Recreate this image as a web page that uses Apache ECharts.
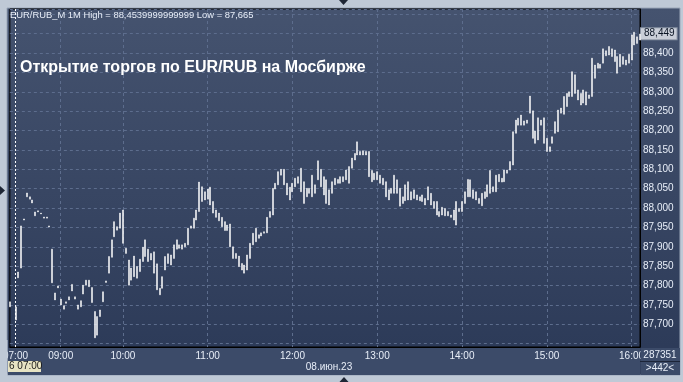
<!DOCTYPE html>
<html><head><meta charset="utf-8">
<script src="https://cdn.jsdelivr.net/npm/echarts@6/dist/echarts.min.js"></script>
<style>html,body{margin:0;padding:0;background:#bfc9d6;}#c{width:683px;height:382px;}</style>
</head><body><div id="c"></div>
<script>
// ---- data (EUR/RUB_M, 1M bars aggregated to ~2 min) ----
const preTimes = ['06:50','06:55','07:00','07:10','07:20','07:30','07:40','07:50','08:00','08:10','08:20','08:30','08:40','08:45','08:50','08:53','08:56','08:58'];
const tickLabels = ['07:00','09:00','10:00','11:00','12:00','13:00','14:00','15:00','16:00'];
const priceLabelRange = [87.7, 88.4];
const lows = [
87.745,null,87.711,87.820,87.845,87.969,88.029,88.023,88.013,87.980,87.990,87.985,87.974,87.974,87.951,87.807,87.763,87.794,
87.750,87.739,87.754,87.763,87.786,87.765,87.739,87.745,87.778,87.801,87.797,87.756,87.665,87.672,87.720,87.758,87.808,87.832,87.873,87.926,87.943,87.948,
87.909,87.883,87.801,87.814,87.823,87.819,87.836,87.862,87.875,87.862,87.866,87.832,87.789,87.776,87.793,87.840,87.857,87.853,87.870,87.894,
87.896,87.894,87.900,87.905,87.948,87.948,87.969,87.991,88.017,88.021,88.023,88.008,87.987,87.976,87.967,87.952,87.942,87.942,87.900,87.870,
87.870,87.849,87.840,87.832,87.840,87.870,87.905,87.913,87.922,87.928,87.935,87.936,87.976,87.982,88.049,88.060,88.085,88.060,88.034,88.021,
88.042,88.055,88.064,88.042,88.012,88.029,88.038,88.029,88.038,88.073,88.055,88.034,88.012,88.008,88.038,88.060,88.064,88.064,88.068,88.073,
88.064,88.103,88.124,88.137,88.137,88.137,88.137,88.081,88.068,88.073,88.073,88.064,88.060,88.029,88.021,88.038,88.038,88.038,88.005,88.012,
88.019,88.021,88.021,88.025,88.021,88.019,88.017,88.008,88.021,88.008,87.999,87.982,87.978,87.982,87.980,87.980,87.976,87.969,87.956,87.991,
87.991,88.012,88.029,88.029,88.025,88.021,88.012,88.006,88.025,88.029,88.038,88.042,88.042,88.068,88.067,88.068,88.090,88.098,88.111,88.193,
88.214,88.214,88.214,88.219,88.245,88.180,88.167,88.176,88.214,88.167,88.146,88.146,88.167,88.193,88.197,88.245,88.242,88.262,88.288,88.288,
88.296,88.279,88.266,88.271,88.266,88.283,88.288,88.335,88.361,88.361,88.374,88.393,88.395,88.391,88.378,88.348,88.365,88.371,88.369,88.374,
88.382,88.421,88.425,88.434
];
const highs = [
87.758,null,87.745,87.835,87.954,87.972,88.039,88.029,88.021,87.990,87.993,87.987,87.977,87.977,87.954,87.894,87.781,87.799,
87.765,87.748,87.758,87.771,87.803,87.771,87.750,87.761,87.801,87.814,87.814,87.795,87.733,87.720,87.737,87.784,87.812,87.875,87.918,87.965,87.952,87.987,
87.995,87.896,87.866,87.845,87.876,87.849,87.868,87.899,87.918,87.894,87.883,87.887,87.856,87.793,87.823,87.875,87.882,87.879,87.905,87.918,
87.905,87.905,87.909,87.948,87.954,87.974,87.995,88.067,88.055,88.042,88.049,88.054,88.017,87.995,87.987,87.976,87.965,87.956,87.959,87.900,
87.883,87.876,87.857,87.853,87.879,87.909,87.935,87.948,87.931,87.936,87.939,87.976,87.991,88.051,88.064,88.094,88.100,88.100,88.064,88.054,
88.064,88.077,88.081,88.103,88.068,88.051,88.051,88.085,88.060,88.122,88.100,88.081,88.073,88.047,88.068,88.077,88.074,88.081,88.081,88.098,
88.107,88.129,88.141,88.171,88.146,88.148,88.146,88.146,88.097,88.090,88.094,88.085,88.077,88.068,88.047,88.051,88.085,88.073,88.051,88.029,
88.060,88.068,88.042,88.047,88.034,88.029,88.034,88.025,88.055,88.038,88.017,88.017,87.991,88.002,87.999,87.991,87.982,87.995,88.017,87.999,
88.017,88.042,88.074,88.073,88.047,88.042,88.025,88.038,88.042,88.060,88.097,88.055,88.085,88.087,88.077,88.098,88.098,88.120,88.197,88.227,
88.232,88.240,88.225,88.227,88.289,88.251,88.199,88.233,88.227,88.233,88.180,88.158,88.184,88.223,88.253,88.258,88.288,88.296,88.300,88.352,
88.344,88.305,88.296,88.305,88.300,88.292,88.387,88.369,88.374,88.371,88.411,88.406,88.417,88.411,88.408,88.391,88.397,88.391,88.382,88.397,
88.447,88.454,88.442,88.449
];
const lastPrice = 88.449;
const sessionHigh = '88,4539999999999';
const sessionLow = '87,665';

// category labels (bar times)
const categories = preTimes.slice();
for (let j = 0; j < 22; j++) { const m = Math.round(j * 60 / 22); categories.push('09:' + String(m).padStart(2, '0')); }
for (let k = 0; categories.length < lows.length; k++) {
  const t = 600 + 2 * k; categories.push(String(Math.floor(t / 60)).padStart(2, '0') + ':' + String(t % 60).padStart(2, '0'));
}
const ohlc = lows.map((l, i) => l == null ? '-' : [l, highs[i], l, highs[i]]);
const fmt = v => v.toFixed(3).replace('.', ',');

const chart = echarts.init(document.getElementById('c'), null, {renderer: 'canvas'});
const FONT = 'Liberation Sans';
chart.setOption({
  animation: false,
  backgroundColor: '#bfc9d6',
  grid: {left: 8, top: 9, right: 43, bottom: 35, show: true, borderColor: '#000', borderWidth: 1, backgroundColor: 'transparent'},
  graphic: [
    {type: 'rect', z: -10, shape: {x: 7, y: 8, width: 673, height: 367},
     style: {fill: new echarts.graphic.LinearGradient(0, 0, 0, 1, [{offset: 0, color: '#45536f'}, {offset: 1, color: '#2b3957'}]), stroke: '#9aa6b8', lineWidth: 1}},
    {type: 'rect', z: -9, shape: {x: 8, y: 348, width: 632, height: 27}, style: {fill: '#3c4b69'}},
    {type: 'rect', z: -9, shape: {x: 641, y: 348, width: 39, height: 27}, style: {fill: '#3c4b69'}},
    // frame masks (clip overflowing labels)
    {type: 'rect', z: 50, shape: {x: 0, y: 340, width: 7.5, height: 42}, style: {fill: '#bfc9d6'}},
    {type: 'rect', z: 50, shape: {x: 640.5, y: 348, width: 39.5, height: 27}, style: {fill: '#3c4b69'}},
    {type: 'line', z: 51, shape: {x1: 640, y1: 361.5, x2: 680, y2: 361.5}, style: {stroke: '#1c2438', lineWidth: 1}},
    {type: 'text', z: 52, style: {x: 660, y: 355, text: '287351', fill: '#e8eef8', font: '10px ' + FONT, textAlign: 'center', textVerticalAlign: 'middle'}},
    {type: 'text', z: 52, style: {x: 660, y: 368, text: '>442<', fill: '#e8eef8', font: '10px ' + FONT, textAlign: 'center', textVerticalAlign: 'middle'}},
    {type: 'rect', z: 52, shape: {x: 8, y: 361, width: 33, height: 11}, style: {fill: '#e7e3c3'}},
    {type: 'text', z: 53, style: {x: 9, y: 366.5, text: '6 07:00', fill: '#1a1a1a', font: '10px ' + FONT, textVerticalAlign: 'middle'}},
    {type: 'text', z: 52, style: {x: 329, y: 367, text: '08.июн.23', fill: '#e8eef8', font: '10px ' + FONT, textAlign: 'center', textVerticalAlign: 'middle'}},
    {type: 'text', z: 52, style: {x: 10, y: 15, text: 'EUR/RUB_M 1M High = ' + sessionHigh + ' Low = ' + sessionLow, fill: '#e8eef8', font: '9.4px ' + FONT, textVerticalAlign: 'middle'}},
    {type: 'text', z: 52, style: {x: 20, y: 68, text: 'Открытие торгов по EUR/RUB на Мосбирже', fill: '#ffffff', font: 'bold 16px ' + FONT, textVerticalAlign: 'middle'}},
    // small frame arrows
    {type: 'polygon', z: 52, shape: {points: [[339, 0], [348, 0], [343.5, 5]]}, style: {fill: '#1e2635'}},
    {type: 'polygon', z: 52, shape: {points: [[0, 186], [0, 195], [5, 190.5]]}, style: {fill: '#1e2635'}},
    {type: 'polygon', z: 52, shape: {points: [[339.5, 382], [348.5, 382], [344, 377]]}, style: {fill: '#1e2635'}}
  ],
  xAxis: {
    type: 'category', data: categories, boundaryGap: false,
    axisLine: {show: true, lineStyle: {color: '#000'}}, axisTick: {show: false},
    axisLabel: {interval: (i, v) => tickLabels.includes(v), color: '#e8eef8', fontSize: 10, fontFamily: FONT, margin: 4},
    splitLine: {show: true, interval: (i, v) => v !== '07:00' && tickLabels.includes(v), lineStyle: {color: '#5d6d8d', type: [3, 3], width: 1}}
  },
  yAxis: {
    type: 'value', position: 'right', min: 87.6414, max: 88.5138, minInterval: 0.05, maxInterval: 0.05,
    axisLine: {show: true, lineStyle: {color: '#000'}}, axisTick: {show: false},
    axisLabel: {formatter: v => (v >= priceLabelRange[0] - 1e-6 && v <= priceLabelRange[1] + 1e-6) ? fmt(v) : '',
      color: '#e8eef8', fontSize: 10, fontFamily: FONT, margin: 3},
    splitLine: {show: true, lineStyle: {color: '#5d6d8d', type: [3, 3], width: 1}}
  },
  series: [{
    type: 'candlestick', data: ohlc, barWidth: 1.5, z: 5,
    itemStyle: {color: '#ffffff', color0: '#ffffff', borderColor: '#ffffff', borderColor0: '#ffffff', borderWidth: 0.5},
    markLine: {
      silent: true, symbol: 'none', animation: false,
      data: [
        {xAxis: '07:00', lineStyle: {color: '#ffffff', type: [2, 2], width: 1}, label: {show: false}},
        {yAxis: lastPrice, lineStyle: {color: 'rgba(0,0,0,0)', width: 0}, label: {show: true, position: 'end', distance: 1, opacity: 1, formatter: () => fmt(lastPrice),
          color: '#0a1424', backgroundColor: '#c9ced8', borderColor: '#8c96a6', borderWidth: 1, padding: [1, 2, 0, 3], fontSize: 10, fontFamily: FONT}}
      ]
    }
  }]
});
</script></body></html>
